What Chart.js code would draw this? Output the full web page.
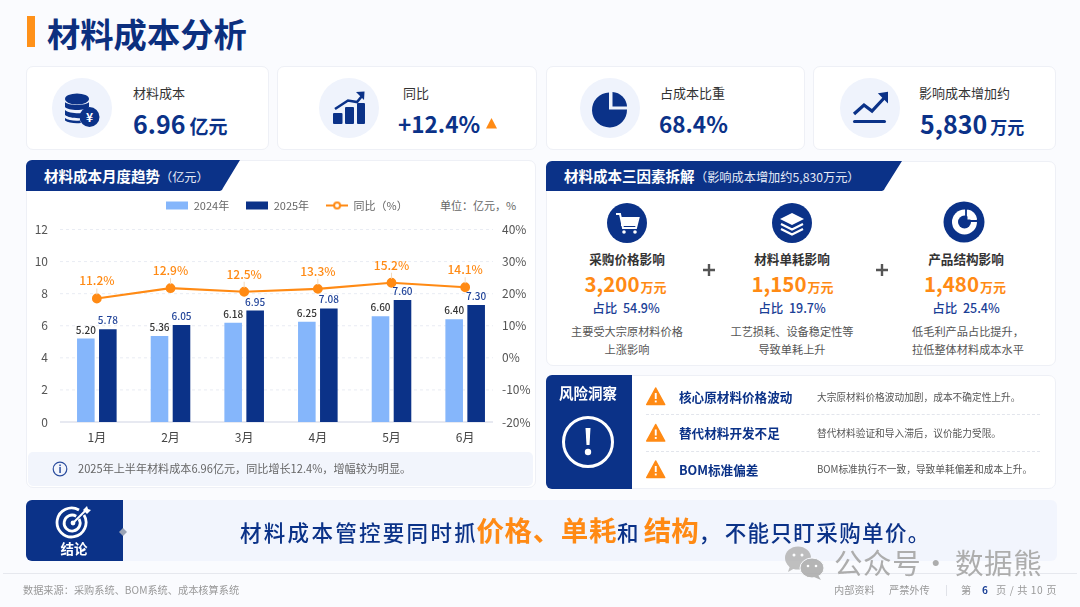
<!DOCTYPE html>
<html lang="zh-CN">
<head>
<meta charset="UTF-8">
<title>材料成本分析</title>
<script src="https://cdn.jsdelivr.net/npm/chart.js"></script>
<style>
  html, body { margin: 0; padding: 0; }
  body { width: 1080px; height: 607px; overflow: hidden; position: relative; background: #fafbfe;
         font-family: "Noto Sans CJK SC", "Noto Sans", sans-serif; color: #333; }
  .box { position: absolute; box-sizing: border-box; background: #fff; border: 1px solid #eef0f6; border-radius: 7px; }
  .t { position: absolute; white-space: nowrap; line-height: 1; transform: translateY(-50%); }
  .c { position: absolute; white-space: nowrap; line-height: 1; transform: translate(-50%, -50%); }
  .navy { color: #0b3288; }
  .orange { color: #ff8a14; }
  .b { font-weight: 700; }
  .m { font-weight: 500; }
  .kl { font-size: 13px; color: #333; }
  .kv { font-size: 25px; font-weight: 700; color: #0b3288; }
  .kv.p { font-size: 22.5px; }
  .kv small { font-weight: 700; }
  .ft { font-size: 12.6px; font-weight: 700; color: #333; }
  .fv { font-size: 20.5px; font-weight: 700; color: #ff8a14; }
  .fv small { font-size: 13px; font-weight: 700; margin-left: 1px; }
  .fs { font-size: 12.5px; font-weight: 500; color: #1b4096; }
  .fd { font-size: 11.2px; color: #555; }
  .rt { font-size: 12.6px; font-weight: 700; color: #0b3288; }
  .rd { font-size: 9.7px; color: #555; }
  .sep { position: absolute; left: 646px; width: 394px; border-top: 1px dashed #e2e5ec; }
  .foot { font-size: 10.2px; color: #999; }
  .wm { font-size: 28.5px; color: #adadad; letter-spacing: .6px; }
  svg { position: absolute; overflow: visible; }
  canvas { position: absolute; left: 26px; top: 192px; }
</style>
</head>
<body>
  <!-- 标题 -->
  <div style="position:absolute;left:27px;top:16px;width:8px;height:31px;background:#ff9119"></div>
  <div class="t b" style="left:47px;top:33px;font-size:33.3px;color:#0c2f7e">材料成本分析</div>

  <!-- 指标卡 -->
  <div class="box" style="left:26px;top:66px;width:243px;height:84px"></div>
  <div class="box" style="left:277px;top:66px;width:260px;height:84px"></div>
  <div class="box" style="left:546px;top:66px;width:259px;height:84px"></div>
  <div class="box" style="left:813px;top:66px;width:243px;height:84px"></div>

  <svg width="1080" height="607" style="left:0;top:0">
    <circle cx="82" cy="108" r="30" fill="#eff3fc"/>
    <circle cx="349" cy="108" r="30" fill="#eff3fc"/>
    <circle cx="610" cy="108" r="30" fill="#eff3fc"/>
    <circle cx="870" cy="108" r="30" fill="#eff3fc"/>
    <!-- 钱币 -->
    <g fill="#0b3288">
      <ellipse cx="77" cy="99" rx="12" ry="5.500"/>
      <path d="M65 102c3 4 21 4 24 0v5c-3 4-21 4-24 0z"/>
      <path d="M65 110c3 3.500 16 4 20 2.500l-3 5.500c-7 .5-14-.5-17-3z"/>
      <path d="M65 118c3 2.500 10 3 15 2.500l1 2.500c-6 .5-13 0-16-2.500z"/>
      <circle cx="89.500" cy="117" r="10"/>
    </g>
    <text x="89.500" y="121.500" text-anchor="middle" font-size="12" font-weight="700" fill="#fff">¥</text>
    <!-- 柱形与箭头 -->
    <g fill="#0b3288">
      <rect x="333" y="113" width="9.500" height="11" rx="1"/>
      <rect x="345" y="107" width="9" height="17" rx="1"/>
      <rect x="357" y="103" width="8" height="21" rx="1"/>
      <path d="M356 92l8.500-.5-.5 8.500z"/>
    </g>
    <path d="M335 109l13-8.500 9 1.500 5-6" fill="none" stroke="#0b3288" stroke-width="2.600"/>
    <!-- 饼图 -->
    <path d="M609 92.500v17h18a17.500 17.500 0 1 1-18-17z" fill="#0b3288"/>
    <path d="M612.500 92a15.500 15.500 0 0 1 14.500 14.500h-14.500z" fill="#0b3288"/>
    <!-- 趋势 -->
    <path d="M854 114l10-9 8 6 14-15" fill="none" stroke="#0b3288" stroke-width="3.200"/>
    <path d="M880 94l7-1 0 8z" fill="#0b3288" stroke="#0b3288" stroke-width="2"/>
    <rect x="853" y="120" width="33" height="3" rx="1.500" fill="#0b3288"/>
    <!-- 小三角 -->
    <path d="M486 128.500l5.500-10.500 5.500 10.500z" fill="#ff8a14"/>
  </svg>

  <div class="t kl" style="left:133px;top:92px">材料成本</div>
  <div class="t kv" style="left:133px;top:122.500px">6.96<small style="font-size:19px;margin-left:4px">亿元</small></div>
  <div class="t kl" style="left:403px;top:92px">同比</div>
  <div class="t kv p" style="left:398px;top:123px">+12.4%</div>
  <div class="t kl" style="left:660px;top:92px">占成本比重</div>
  <div class="t kv p" style="left:659px;top:123px">68.4%</div>
  <div class="t kl" style="left:919px;top:92px">影响成本增加约</div>
  <div class="t kv" style="left:920px;top:123px">5,830<small style="font-size:17px;margin-left:3px">万元</small></div>

  <!-- 左侧图表面板 -->
  <div class="box" style="left:26px;top:160px;width:510px;height:328px"></div>
  <svg width="1080" height="607" style="left:0;top:0">
    <path d="M26 166a6 6 0 0 1 6-6h208l-17 28a4 4 0 0 1-3 3h-194z" fill="#0b3288"/>
  </svg>
  <div class="t b" style="left:44px;top:176px;font-size:14.500px;color:#fff">材料成本月度趋势</div>
  <div class="t" style="left:160px;top:176.500px;font-size:12.200px;color:#e6ebf7">（亿元）</div>
  <div class="t" style="left:440px;top:205px;font-size:11px;color:#666">单位：亿元，%</div>

  <!-- 三因素 -->
  <div class="box" style="left:546px;top:161px;width:510px;height:205px"></div>
  <svg width="1080" height="607" style="left:0;top:0">
    <path d="M546 167a6 6 0 0 1 6-6h350l-17 27a4 4 0 0 1-3 3h-336z" fill="#0b3288"/>
    <circle cx="627" cy="223" r="20" fill="#0b3288"/>
    <circle cx="792" cy="223" r="20" fill="#0b3288"/>
    <circle cx="964" cy="222" r="20.500" fill="#0b3288"/>
    <!-- 购物车 -->
    <path d="M616 214h4l3 14h13l2.500-10h-17" fill="none" stroke="#fff" stroke-width="2"/>
    <rect x="621" y="218" width="16" height="8" fill="#fff"/>
    <circle cx="624" cy="232" r="1.800" fill="#fff"/>
    <circle cx="635" cy="232" r="1.800" fill="#fff"/>
    <!-- 图层 -->
    <path d="M792 213l12 6-12 6-12-6z" fill="#fff"/>
    <path d="M781 224l11 5.500 11-5.500M781 229l11 5.500 11-5.500" fill="none" stroke="#fff" stroke-width="2.200"/>
    <!-- 饼 -->
    <circle cx="964.500" cy="222" r="12.500" fill="#fff"/>
    <circle cx="964.500" cy="222" r="6.500" fill="#0b3288"/>
    <path d="M966 208v13h12" fill="none" stroke="#0b3288" stroke-width="1.800"/>
    <path d="M967.500 209.500a11 11 0 0 1 9.500 10h-9.500z" fill="#fff"/>
    <!-- 加号 -->
    <path d="M703 270h12M709 264v12M876 270h12M882 264v12" stroke="#555" stroke-width="2.400"/>
  </svg>
  <div class="t b" style="left:564px;top:176px;font-size:14.500px;color:#fff">材料成本三因素拆解</div>
  <div class="t" style="left:695px;top:176.500px;font-size:12.200px;color:#e6ebf7">（影响成本增加约5,830万元）</div>

  <div class="c ft" style="left:627px;top:259px">采购价格影响</div>
  <div class="c fv" style="left:625.500px;top:283px">3,200<small>万元</small></div>
  <div class="c fs" style="left:626px;top:308px">占比&nbsp; 54.9%</div>
  <div class="c fd" style="left:627px;top:332px">主要受大宗原材料价格</div>
  <div class="c fd" style="left:627px;top:350px">上涨影响</div>

  <div class="c ft" style="left:792px;top:259px">材料单耗影响</div>
  <div class="c fv" style="left:792.500px;top:283px">1,150<small>万元</small></div>
  <div class="c fs" style="left:792px;top:308px">占比&nbsp; 19.7%</div>
  <div class="c fd" style="left:792px;top:332px">工艺损耗、设备稳定性等</div>
  <div class="c fd" style="left:792px;top:350px">导致单耗上升</div>

  <div class="c ft" style="left:966px;top:259px">产品结构影响</div>
  <div class="c fv" style="left:965px;top:283px">1,480<small>万元</small></div>
  <div class="c fs" style="left:966px;top:308px">占比&nbsp; 25.4%</div>
  <div class="c fd" style="left:968px;top:332px">低毛利产品占比提升，</div>
  <div class="c fd" style="left:968px;top:350px">拉低整体材料成本水平</div>

  <!-- 画布比左面板宽一点，图例才能落在参考图的位置；多出的部分透明 -->
  <canvas id="trendChart" width="522" height="258"></canvas>

  <div style="position:absolute;left:28px;top:452px;width:505px;height:34px;background:#f2f5fc;border-radius:5px"></div>
  <svg width="1080" height="607" style="left:0;top:0">
    <circle cx="60" cy="469" r="6.800" fill="none" stroke="#2b4d9e" stroke-width="1.200"/>
    <rect x="59.300" y="467" width="1.500" height="6" fill="#2b4d9e"/>
    <rect x="59.300" y="464.500" width="1.500" height="1.600" fill="#2b4d9e"/>
  </svg>
  <div class="t" style="left:78px;top:469px;font-size:11.100px;color:#666">2025年上半年材料成本6.96亿元，同比增长12.4%，增幅较为明显。</div>

  <!-- 风险洞察 -->
  <div class="box" style="left:546px;top:375px;width:510px;height:114px"></div>
  <svg width="1080" height="607" style="left:0;top:0">
    <path d="M546 381a6 6 0 0 1 6-6h80v114h-80a6 6 0 0 1-6-6z" fill="#0b3288"/>
    <circle cx="588" cy="442" r="24.500" fill="none" stroke="#fff" stroke-width="3"/>
    <path d="M585.500 428h5l-1 17h-3z" fill="#fff"/>
    <circle cx="588" cy="452" r="3.200" fill="#fff"/>
    <g id="warn">
      <path d="M655.700 388l9 16.500h-18z" fill="#ff8a14" stroke="#ff8a14" stroke-width="1.500" stroke-linejoin="round"/>
      <rect x="654.800" y="393" width="1.900" height="6" fill="#fff"/>
      <rect x="654.800" y="400.500" width="1.900" height="1.900" fill="#fff"/>
    </g>
    <use href="#warn" y="36.500"/>
    <use href="#warn" y="73"/>
  </svg>
  <div class="c b" style="left:588px;top:393px;font-size:14.500px;color:#fff">风险洞察</div>
  <div class="t rt" style="left:679px;top:397px">核心原材料价格波动</div>
  <div class="t rd" style="left:817px;top:398px">大宗原材料价格波动加剧，成本不确定性上升。</div>
  <div class="sep" style="top:414px"></div>
  <div class="t rt" style="left:679px;top:433px">替代材料开发不足</div>
  <div class="t rd" style="left:817px;top:433.500px">替代材料验证和导入滞后，议价能力受限。</div>
  <div class="sep" style="top:451px"></div>
  <div class="t rt" style="left:679px;top:470px">BOM标准偏差</div>
  <div class="t rd" style="left:817px;top:470px">BOM标准执行不一致，导致单耗偏差和成本上升。</div>

  <!-- 结论 -->
  <div style="position:absolute;left:26px;top:500px;width:1031px;height:61px;background:#f2f5fd;border-radius:6px"></div>
  <svg width="1080" height="607" style="left:0;top:0">
    <path d="M26 506a6 6 0 0 1 6-6h91v61h-91a6 6 0 0 1-6-6z" fill="#0b3288"/>
    <path d="M123 528l4 4-4 4-4-4z" fill="#9aa3b5"/>
    <g fill="none" stroke="#fff" stroke-width="2.800" transform="translate(0,-2)">
      <path d="M84 517a14.500 14.500 0 1 1-5-5"/>
      <path d="M79 521a8 8 0 1 1-2.800-2.800"/>
    </g>
    <circle cx="73" cy="523" r="2.400" fill="#fff"/>
    <path d="M73 523l13-13" stroke="#fff" stroke-width="2"/>
    <path d="M83 510l4-4 1 3 3 1-4 4z" fill="#fff"/>
  </svg>
  <div class="c b" style="left:74px;top:549px;font-size:13.500px;color:#fff">结论</div>
  <div class="t m navy" style="left:240px;top:530px;font-size:21.500px;letter-spacing:2.300px">材料成本管控要同时抓<span class="b orange" style="font-size:27.500px;letter-spacing:.6px;margin-left:-1.500px">价格、单耗</span>和<span class="b orange" style="font-size:27.500px;letter-spacing:0;margin-left:3px">结构</span><span style="margin-right:2px">，</span><span style="letter-spacing:1.400px">不能只盯采购单价。</span></div>

  <!-- 页脚 -->
  <div style="position:absolute;left:3px;right:3px;top:573px;border-top:1px solid #e6e8ee"></div>
  <div class="t foot" style="left:23px;top:590px">数据来源：采购系统、BOM系统、成本核算系统</div>
  <div class="t foot" style="left:834px;top:590px">内部资料</div>
  <div class="t foot" style="left:889px;top:590px">严禁外传</div>
  <div style="position:absolute;left:946px;top:585px;height:11px;border-left:1px solid #e0e2e8"></div>
  <div class="t foot" style="left:961px;top:590px">第</div>
  <div class="t b" style="left:982px;top:590px;font-size:10px;color:#1b4096">6</div>
  <div class="t foot" style="left:996px;top:590px;letter-spacing:.6px">页 / 共 10 页</div>

  <!-- 水印 -->
  <svg width="1080" height="607" style="left:0;top:0;opacity:.85">
    <ellipse cx="798" cy="558" rx="13" ry="11.500" fill="#b4b4b4"/>
    <path d="M790 566l-2 6 7-4z" fill="#b4b4b4"/>
    <ellipse cx="812" cy="568" rx="12" ry="10" fill="#a9a9a9" stroke="#fafbfe" stroke-width="1"/>
    <path d="M818 575l3 5-7-3z" fill="#a9a9a9"/>
    <circle cx="794" cy="555" r="1.500" fill="#fff"/><circle cx="802" cy="555" r="1.500" fill="#fff"/>
    <circle cx="808" cy="566" r="1.300" fill="#fff"/><circle cx="816" cy="566" r="1.300" fill="#fff"/>
  </svg>
  <div class="t wm" style="left:834px;top:562px">公众号</div>
  <div class="c wm" style="left:936px;top:562px">·</div>
  <div class="t wm" style="left:955px;top:562px">数据熊</div>

<script>
const months = ["1月", "2月", "3月", "4月", "5月", "6月"];
const seriesNames = ["2024年", "2025年", "同比（%）"];
const values2024 = [5.20, 5.36, 6.18, 6.25, 6.60, 6.40];
const values2025 = [5.78, 6.05, 6.95, 7.08, 7.60, 7.30];
// 折线在图上的高度（按右轴读数），标注文字另列
const yoyHeights = [18.5, 21.7, 20.6, 21.5, 23.4, 22.0];
const yoyLabels = ["11.2%", "12.9%", "12.5%", "13.3%", "15.2%", "14.1%"];

const NAVY = "#0b3288", LIGHT = "#85b6fb", ORANGE = "#ff8a14";
const FONT = '"Noto Sans CJK SC", "Noto Sans", sans-serif';

// 图例小图标
function swatch(draw) {
    const c = document.createElement("canvas");
    c.width = 22; c.height = 12;
    draw(c.getContext("2d"));
    return c;
}
const swatches = [
    swatch(x => { x.fillStyle = LIGHT; x.fillRect(0, 2, 22, 8); }),
    swatch(x => { x.fillStyle = NAVY; x.fillRect(0, 2, 22, 8); }),
    swatch(x => {
        x.strokeStyle = ORANGE; x.lineWidth = 2;
        x.beginPath(); x.moveTo(0, 6); x.lineTo(22, 6); x.stroke();
        x.fillStyle = "#fff"; x.beginPath(); x.arc(11, 6, 3, 0, Math.PI * 2); x.fill(); x.stroke();
    })
];

// 图例下方多留一点空
const legendGap = {
    id: "legendGap",
    beforeInit(chart) {
        const fit = chart.legend.fit;
        chart.legend.fit = function () {
            fit.call(this);
            this.height += 8.5;
        };
    }
};

// 参考图的网格线比类目带短一截，这里自己画
const shortGrid = {
    id: "shortGrid",
    beforeDatasetsDraw(chart) {
        const ctx = chart.ctx, area = chart.chartArea, y = chart.scales.y;
        ctx.save();
        y.ticks.forEach(tick => {
            const py = y.getPixelForValue(tick.value);
            ctx.beginPath();
            ctx.moveTo(area.left, py);
            ctx.lineTo(area.right - 9, py);
            if (tick.value === 0) {
                ctx.setLineDash([]);
                ctx.strokeStyle = "#dfe2ec";
                ctx.lineWidth = 1.5;
            } else {
                ctx.setLineDash([3, 3]);
                ctx.strokeStyle = "#e9ecf3";
                ctx.lineWidth = 1;
            }
            ctx.stroke();
        });
        ctx.restore();
    }
};

// 柱顶数值和折线标注
const valueLabels = {
    id: "valueLabels",
    afterDatasetsDraw(chart) {
        const ctx = chart.ctx;
        ctx.save();
        ctx.textAlign = "center";
        ctx.textBaseline = "alphabetic";
        [[0, values2024, "#333"], [1, values2025, "#1f4298"]].forEach(([i, vals, color]) => {
            ctx.font = "500 10px " + FONT;
            ctx.fillStyle = color;
            chart.getDatasetMeta(i).data.forEach((bar, n) => {
                ctx.fillText(vals[n].toFixed(2), bar.x, bar.y - 5);
            });
        });
        chart.getDatasetMeta(2).data.forEach((pt, n) => {
            ctx.strokeStyle = "#f3d9bb";
            ctx.lineWidth = 1;
            ctx.beginPath(); ctx.moveTo(pt.x, pt.y - 4); ctx.lineTo(pt.x, pt.y - 10); ctx.stroke();
            ctx.font = "500 12px " + FONT;
            ctx.fillStyle = ORANGE;
            ctx.fillText(yoyLabels[n], pt.x, pt.y - 13);
        });
        ctx.restore();
    }
};

new Chart(document.getElementById("trendChart").getContext("2d"), {
    data: {
        labels: months,
        datasets: [
            { type: "bar", label: seriesNames[0], data: values2024, backgroundColor: LIGHT, yAxisID: "y", categoryPercentage: 0.597, barPercentage: 0.8, order: 2 },
            { type: "bar", label: seriesNames[1], data: values2025, backgroundColor: NAVY, yAxisID: "y", categoryPercentage: 0.597, barPercentage: 0.8, order: 2 },
            { type: "line", label: seriesNames[2], data: yoyHeights, borderColor: ORANGE, backgroundColor: ORANGE, borderWidth: 2.2, pointRadius: 3.8, tension: 0, yAxisID: "y1", order: 1 }
        ]
    },
    options: {
        responsive: false,
        animation: false,
        layout: { padding: { top: -9 } },
        plugins: {
            tooltip: { enabled: false },
            legend: {
                position: "top",
                labels: {
                    usePointStyle: true,
                    pointStyleWidth: 22,
                    padding: 17,
                    color: "#666",
                    font: { family: FONT, size: 11 },
                    generateLabels: chart => chart.data.datasets.map((d, i) => ({
                        text: d.label, pointStyle: swatches[i], datasetIndex: i, fontColor: "#666", lineWidth: 0
                    }))
                }
            }
        },
        scales: {
            x: {
                grid: { display: false, drawTicks: false },
                border: { display: false },
                ticks: { color: "#444", font: { family: FONT, size: 12 }, padding: 8 },
                afterFit: s => { s.height = 28; }
            },
            y: {
                min: 0, max: 12,
                ticks: { stepSize: 2, color: "#555", font: { family: FONT, size: 12 }, padding: 12 },
                grid: { display: false, drawTicks: false },
                border: { display: false },
                afterFit: s => { s.width = 34; }
            },
            y1: {
                position: "right",
                min: -20, max: 40,
                ticks: { stepSize: 10, color: "#555", font: { family: FONT, size: 12 }, padding: 0, callback: v => v + "%" },
                grid: { display: false, drawTicks: false },
                border: { display: false },
                afterFit: s => { s.width = 46; }
            }
        }
    },
    plugins: [legendGap, shortGrid, valueLabels]
});
</script>
</body>
</html>
